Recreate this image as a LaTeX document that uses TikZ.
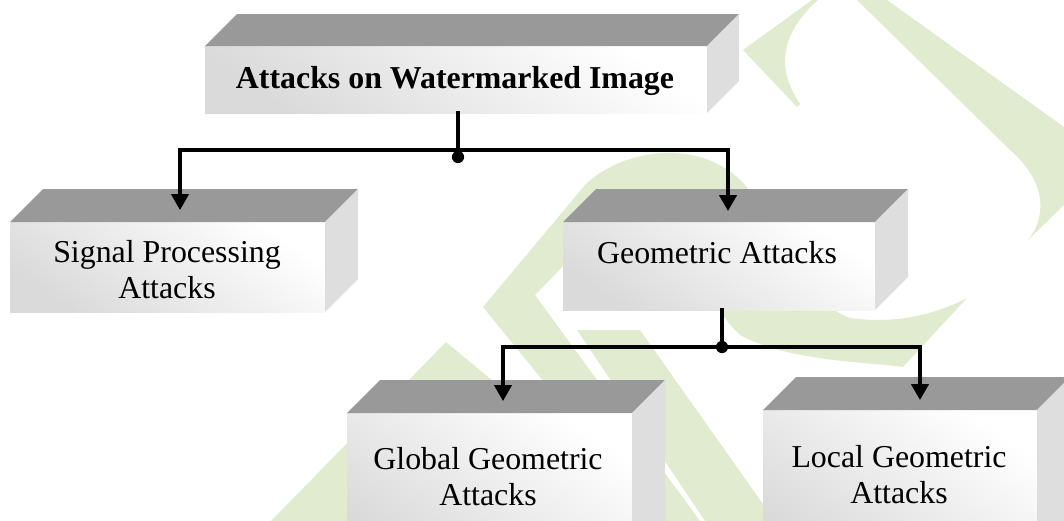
\documentclass[tikz,border=0pt]{standalone}
\usepackage{fontspec}
\setmainfont{Liberation Serif}
\usetikzlibrary{arrows.meta,calc}
\definecolor{wm}{RGB}{225,235,207}
\definecolor{topgray}{RGB}{153,153,153}
\definecolor{sidegray}{RGB}{222,222,222}
\definecolor{frontdark}{RGB}{218,218,218}
\tikzset{
  front/.style={rectangle,draw=none,inner sep=0pt,outer sep=0pt,
    top color=white,bottom color=frontdark,shading angle=-35},
  topface/.style={fill=topgray},
  sideface/.style={fill=sidegray},
  lbl/.style={font=\fontsize{23.9pt}{27pt}\selectfont,align=center,inner sep=0pt},
  conn/.style={line width=2.5pt,line cap=rect},
  arr/.style={conn,-{Triangle[length=12pt,width=13pt]}},
  jdot/.style={fill=black},
  wmark/.style={fill=wm,draw=none}
}
\newcommand{\cuboid}[6]{%
  \node[front,minimum width={(#4-#2)*0.75pt},minimum height={(#5-#3)*0.75pt}] (#1) at ({(#2+#4)/2},{(#3+#5)/2}) {};
  \fill[topface] (#1.north west) -- ++(#6,-#6) -- ([shift={(#6,-#6)}]#1.north east) -- (#1.north east) -- cycle;
  \fill[sideface] (#1.north east) -- ++(#6,-#6) -- ([shift={(#6,-#6)}]#1.south east) -- (#1.south east) -- cycle;
}
\begin{document}
\begin{tikzpicture}[x=0.75pt,y=-0.75pt]
\useasboundingbox (0,0) rectangle (1064,521);
\clip (0,0) rectangle (1064,521);
% watermark
\fill[wmark] (743,50) -- (812,0) -- (818,0) .. controls (790,25) and (770,60) .. (800,104) -- (797,107) -- cycle;
\fill[wmark] (857,0) -- (887,0) -- (1064,127) -- (1064,205) -- (1028,240) .. controls (1048,215) and (1045,180) .. (1010,150) -- cycle;
\fill[wmark] (483,307) -- (585,185) .. controls (620,150) and (700,135) .. (745,185) .. controls (775,225) and (800,300) .. (850,318) .. controls (900,325) and (940,312) .. (967,298) -- (903,367) .. controls (870,362) and (790,362) .. (740,335) .. controls (700,300) and (690,215) .. (645,205) .. controls (615,200) and (590,240) .. (535,295) -- (700,521) -- (657,521) -- cycle;
\fill[wmark] (446,342) -- (540,420) -- (540,521) -- (271,521) -- cycle;
\fill[wmark] (577,330) -- (640,330) -- (775,521) -- (705,521) -- cycle;
% boxes
\cuboid{top}{205}{46}{707}{113}{32}
\cuboid{sig}{10}{222}{325}{312}{33}
\cuboid{geo}{563}{222}{875}{310}{33}
\cuboid{glob}{347}{413}{632}{560}{33}
\cuboid{loc}{763}{410}{1037}{560}{33}
% labels
\node[lbl,anchor=base,font=\fontsize{23.9pt}{27pt}\selectfont\bfseries] (top-t) at (455,88) {Attacks on Watermarked Image};
\node[lbl,anchor=base] (sig-t) at (167,298) {Signal Processing\\Attacks};
\node[lbl,anchor=base] (geo-t) at (717,263) {Geometric Attacks};
\node[lbl,anchor=base] (glob-t) at (488,505) {Global Geometric\\Attacks};
\node[lbl,anchor=base] (loc-t) at (899,503) {Local Geometric\\Attacks};
% connectors
\coordinate (j1) at (458,150);
\coordinate (d1) at (458,157);
\coordinate (sigin) at (180,210);
\coordinate (geoin) at (728,211);
\coordinate (j2) at (722,347);
\coordinate (globin) at (503,401);
\coordinate (locin) at (920,400);
\draw[conn] (top.south -| j1) -- (j1);
\draw[arr] (j1) -| (sigin);
\draw[arr] (j1) -| (geoin);
\fill[jdot] (d1) circle[radius=4.6pt];
\draw[conn] (geo.south -| j2) -- (j2);
\draw[arr] (j2) -| (globin);
\draw[arr] (j2) -| (locin);
\fill[jdot] (j2) circle[radius=4.6pt];
\end{tikzpicture}
\end{document}
